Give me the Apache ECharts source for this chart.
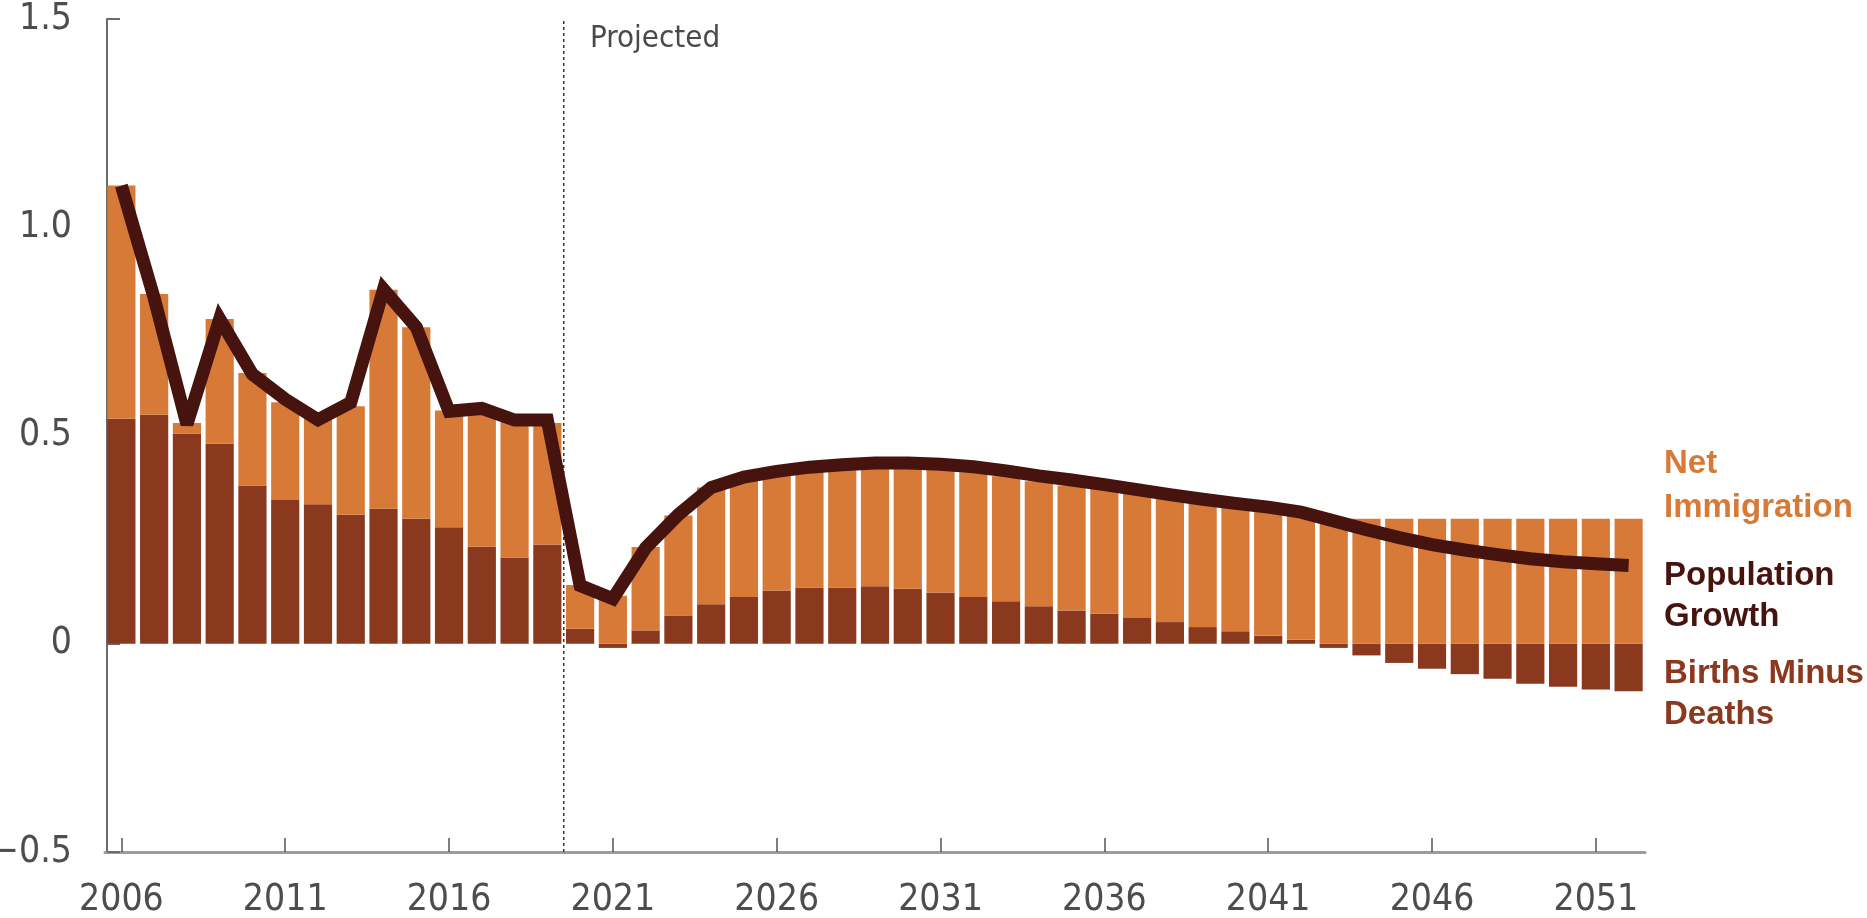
<!DOCTYPE html>
<html>
<head>
<meta charset="utf-8">
<script src="https://cdn.jsdelivr.net/npm/echarts@6/dist/echarts.min.js"></script>
<style>
  html, body { margin: 0; padding: 0; background: #ffffff; }
  #chart { width: 1867px; height: 918px; }
</style>
</head>
<body>
<div id="chart"></div>
<script>
// Annual components of population growth (percent), actual through 2019, projected after.
const years = [
  '2006','2007','2008','2009','2010','2011','2012','2013','2014','2015',
  '2016','2017','2018','2019','2020','2021','2022','2023','2024','2025',
  '2026','2027','2028','2029','2030','2031','2032','2033','2034','2035',
  '2036','2037','2038','2039','2040','2041','2042','2043','2044','2045',
  '2046','2047','2048','2049','2050','2051','2052'
];

const birthsMinusDeaths = [
  0.54, 0.55, 0.505, 0.48, 0.38, 0.345, 0.335, 0.31, 0.325, 0.30,
  0.28, 0.233, 0.207, 0.238, 0.036, -0.01, 0.032, 0.068, 0.095, 0.112,
  0.128, 0.135, 0.135, 0.138, 0.132, 0.123, 0.112, 0.102, 0.09, 0.08,
  0.072, 0.062, 0.052, 0.04, 0.03, 0.019, 0.01, -0.01, -0.028, -0.046,
  -0.06, -0.073, -0.084, -0.096, -0.103, -0.11, -0.114
];

const netImmigration = [
  0.56, 0.29, 0.025, 0.30, 0.27, 0.235, 0.205, 0.26, 0.525, 0.46,
  0.28, 0.327, 0.333, 0.292, 0.105, 0.115, 0.20, 0.24, 0.28, 0.285,
  0.285, 0.29, 0.295, 0.30, 0.30, 0.30, 0.30, 0.30, 0.30, 0.30,
  0.30, 0.30, 0.30, 0.30, 0.30, 0.30, 0.30, 0.30, 0.30, 0.30,
  0.30, 0.30, 0.30, 0.30, 0.30, 0.30, 0.30
];

const populationGrowth = [
  1.10, 0.83, 0.527, 0.78, 0.647, 0.587, 0.538, 0.579, 0.851, 0.76,
  0.558, 0.565, 0.537, 0.537, 0.14, 0.108, 0.23, 0.31, 0.375, 0.40,
  0.414, 0.424, 0.43, 0.434, 0.434, 0.431, 0.425, 0.415, 0.403, 0.393,
  0.382, 0.37, 0.358, 0.347, 0.337, 0.328, 0.316, 0.295, 0.274, 0.255,
  0.238, 0.225, 0.214, 0.204, 0.197, 0.192, 0.188
];

const firstProjectedYear = '2020';
const yRange = [-0.5, 1.5];

const COLORS = {
  immigration: '#d77a38',
  natural: '#8a391e',
  growth: '#46130f',
  axisText: '#4d4d4d'
};

const condensedFont = "'DejaVu Sans Condensed', 'DejaVu Sans', sans-serif";
const labelFont = "'Liberation Sans', Arial, sans-serif";

const dividerIndex = years.indexOf(firstProjectedYear) - 0.5;

const chart = echarts.init(document.getElementById('chart'), null, { renderer: 'canvas' });

chart.setOption({
  animation: false,
  backgroundColor: '#ffffff',
  grid: {
    left: 105, right: 222, top: 19, bottom: 66,
    containLabel: false,
    outerBoundsMode: 'none'
  },
  xAxis: [
    {
      type: 'category',
      data: years,
      position: 'bottom',
      axisLine: { show: true, onZero: false, lineStyle: { color: '#9c9c9c', width: 3 } },
      axisTick: {
        show: true, inside: true, length: 14, interval: 4, alignWithLabel: true,
        lineStyle: { color: '#555555', width: 1.5 }
      },
      axisLabel: {
        interval: 4, margin: 30,
        color: COLORS.axisText, fontFamily: condensedFont, fontSize: 37
      },
      splitLine: { show: false }
    },
    {
      type: 'value',
      min: -0.5,
      max: years.length - 0.5,
      show: false
    }
  ],
  yAxis: {
    type: 'value',
    min: yRange[0],
    max: yRange[1],
    interval: 0.5,
    offset: -2,
    axisLine: { show: true, onZero: false, lineStyle: { color: '#6b6b6b', width: 2 } },
    axisTick: { show: true, inside: true, length: 13, lineStyle: { color: '#6b6b6b', width: 2 } },
    axisLabel: {
      margin: 35,
      color: COLORS.axisText, fontFamily: condensedFont, fontSize: 37,
      formatter: v => v === 0 ? '0' : (v < 0 ? '\u2212' : '') + Math.abs(v).toFixed(1)
    },
    splitLine: { show: false }
  },
  series: [
    {
      name: 'Births Minus Deaths',
      type: 'bar',
      stack: 'components',
      data: birthsMinusDeaths,
      barCategoryGap: '14%',
      itemStyle: { color: COLORS.natural },
      silent: true
    },
    {
      name: 'Net Immigration',
      type: 'bar',
      stack: 'components',
      data: netImmigration,
      barCategoryGap: '14%',
      itemStyle: { color: COLORS.immigration },
      silent: true
    },
    {
      name: 'Projected divider',
      type: 'line',
      xAxisIndex: 1,
      data: [[dividerIndex, yRange[0]], [dividerIndex, yRange[1]]],
      symbol: 'none',
      lineStyle: { color: '#333333', width: 1.5, type: [3, 3] },
      z: 3,
      silent: true
    },
    {
      name: 'Population Growth',
      type: 'line',
      data: populationGrowth,
      symbol: 'none',
      lineStyle: { color: COLORS.growth, width: 13, join: 'miter', miterLimit: 3 },
      z: 4,
      silent: true
    }
  ],
  graphic: [
    {
      type: 'text', left: 590, top: 23,
      style: { text: 'Projected', fill: '#4a4a4a', font: "31px " + condensedFont }
    },
    {
      type: 'text', left: 1664, top: 442,
      style: {
        text: 'Net\nImmigration', fill: COLORS.immigration,
        font: "bold 33px " + labelFont, lineHeight: 44
      }
    },
    {
      type: 'text', left: 1664, top: 555,
      style: {
        text: 'Population\nGrowth', fill: COLORS.growth,
        font: "bold 33px " + labelFont, lineHeight: 41
      }
    },
    {
      type: 'text', left: 1664, top: 653,
      style: {
        text: 'Births Minus\nDeaths', fill: COLORS.natural,
        font: "bold 33px " + labelFont, lineHeight: 41
      }
    }
  ]
});
</script>
</body>
</html>
